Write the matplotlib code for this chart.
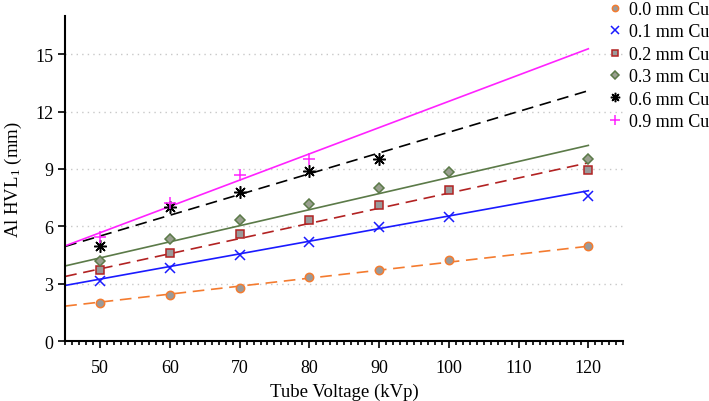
import numpy as np
import matplotlib
matplotlib.use("Agg")
from matplotlib import pyplot as plt
from matplotlib.ticker import MultipleLocator

plt.rcParams["font.family"] = ["Liberation Serif", "DejaVu Serif"]
plt.rcParams["mathtext.fontset"] = "custom"
plt.rcParams["mathtext.rm"] = "Liberation Serif"
plt.rcParams["mathtext.it"] = "Liberation Serif:italic"

# Dados
kvp_all = [50, 60, 70, 80, 90, 100, 120]
hvl_00 = [1.98, 2.39, 2.79, 3.35, 3.70, 4.23, 4.96]
hvl_01 = [3.16, 3.82, 4.51, 5.17, 5.98, 6.51, 7.56]
hvl_02 = [3.74, 4.63, 5.58, 6.35, 7.12, 7.90, 8.96]
hvl_03 = [4.19, 5.32, 6.32, 7.19, 7.98, 8.85, 9.53]
kvp_06 = [50, 60, 70, 80, 90]
hvl_06 = [4.98, 7.03, 7.82, 8.88, 9.54]
kvp_09 = [50, 60, 70, 80]
hvl_09 = [5.45, 7.20, 8.67, 9.54]
labels = ["0.0 mm Cu", "0.1 mm Cu", "0.2 mm Cu", "0.3 mm Cu", "0.6 mm Cu", "0.9 mm Cu"]

# Retas de ajuste (valor em 45 e em 120 kVp)
fit_kvp = [45, 120]
fit_start = [1.83, 2.91, 3.38, 3.93, 4.95, 4.98]
fit_end = [4.96, 7.86, 9.32, 10.23, 13.09, 15.28]

series = [
    # x, y, cor da linha, estilo, marcador, face, borda, tamanho
    (kvp_all, hvl_00, "#f47b2f", (0, (7, 4)), "o", "#9a9a9a", "#f47b2f", 6),
    (kvp_all, hvl_01, "#1a1aff", "-", "x", "none", "#1a1aff", 7),
    (kvp_all, hvl_02, "#b22222", (0, (7, 4)), "s", "#9a9a9a", "#b22222", 6),
    (kvp_all, hvl_03, "#5b7a48", "-", "D", "#9aa090", "#5b7a48", 5.5),
    (kvp_06, hvl_06, "black", (0, (7, 4)), (8, 2, 0), "black", "black", 9),
    (kvp_09, hvl_09, "#ff22ff", "-", "+", "none", "#ff22ff", 9),
]

fig = plt.figure(figsize=(7.09, 4.02), dpi=100)
ax = fig.add_axes([0.092, 0.149, 0.787, 0.809])

handles = []
for i, ((x, y, color, ls, marker, face, edge, ms), label) in enumerate(zip(series, labels)):
    ax.plot(fit_kvp, [fit_start[i], fit_end[i]], color=color, linestyle=ls,
            linewidth=1.2, zorder=2)
    h = ax.plot(x, y, linestyle="none", marker=marker, markersize=ms,
                markerfacecolor=face, markeredgecolor=edge, markeredgewidth=1.1,
                color=edge, label=label, zorder=3)[0]
    handles.append(h)

ax.set_xlim(45, 125)
ax.set_ylim(0, 17)
ax.set_xticks([50, 60, 70, 80, 90, 100, 110, 120])
ax.xaxis.set_minor_locator(MultipleLocator(1))
ax.set_yticks([0, 3, 6, 9, 12, 15])
ax.tick_params(axis="both", which="major", direction="out", length=5, width=1.2, labelsize=13)
ax.tick_params(axis="x", which="minor", direction="out", length=3, width=1.2)
ax.tick_params(axis="x", which="major", pad=8)
ax.grid(axis="y", linestyle=(0, (1, 3)), color="#c8c8c8", linewidth=1)
ax.set_axisbelow(True)
for side in ["top", "right"]:
    ax.spines[side].set_visible(False)
for side in ["left", "bottom"]:
    ax.spines[side].set_linewidth(1.5)

ax.set_xlabel("Tube Voltage (kVp)", fontsize=13.5, labelpad=5)
ax.set_ylabel("Al HVL$_1$ (mm)", fontsize=13.5, labelpad=8)

fig.legend(handles=handles, labels=labels, loc="upper left",
           bbox_to_anchor=(0.857, 0.995), frameon=False, fontsize=13,
           handlelength=0.8, handletextpad=0.4, labelspacing=0.3,
           markerscale=0.75, borderpad=0, borderaxespad=0)

fig.savefig("out.png", dpi=100)
